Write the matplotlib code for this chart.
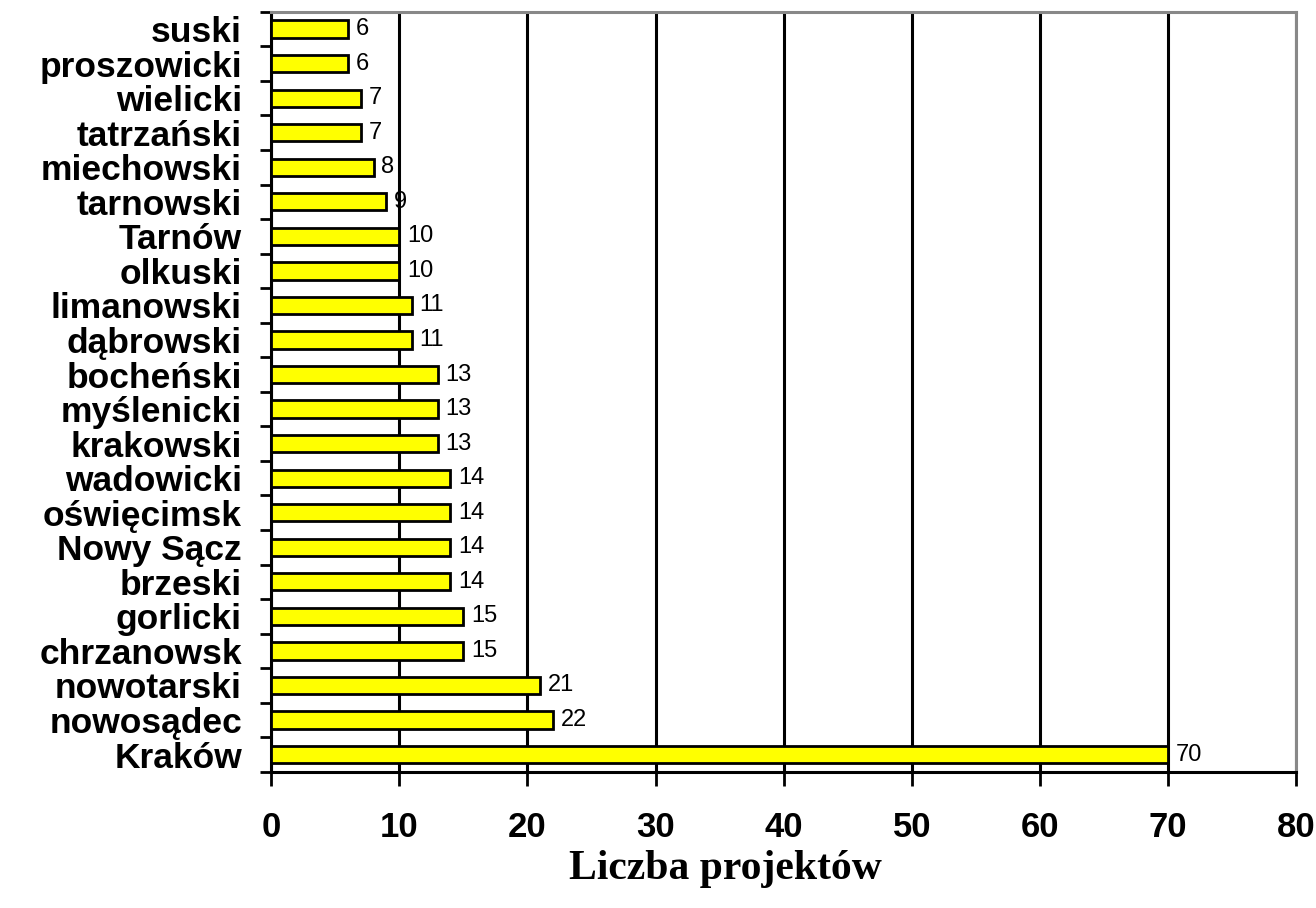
import numpy as np
import matplotlib.pyplot as plt

# categories listed bottom to top
powiaty = ['Kraków', 'nowosądec', 'nowotarski', 'chrzanowsk', 'gorlicki',
           'brzeski', 'Nowy Sącz', 'oświęcimsk', 'wadowicki', 'krakowski',
           'myślenicki', 'bocheński', 'dąbrowski', 'limanowski', 'olkuski',
           'Tarnów', 'tarnowski', 'miechowski', 'tatrzański', 'wielicki',
           'proszowicki', 'suski']
projekty = [70, 22, 21, 15, 15, 14, 14, 14, 14, 13, 13, 13, 11, 11, 10, 10,
            9, 8, 7, 7, 6, 6]
xticks = [0, 10, 20, 30, 40, 50, 60, 70, 80]

fig = plt.figure(figsize=(13.16, 9.08), dpi=100)
ax = fig.add_axes([0.206, 0.150, 0.779, 0.837])

y = np.arange(len(powiaty))
ax.barh(y, projekty, height=0.5, color='#ffff00', edgecolor='black',
        linewidth=2, zorder=3)

#values next to bars
for i in range(len(projekty)):
	ax.text(projekty[i] + 0.6, y[i], str(projekty[i]), va='center', ha='left',
	        fontsize=17, family='Liberation Sans', zorder=4)

ax.set_xlim(0, 80)
ax.set_ylim(-0.5, len(powiaty) - 0.5)

ax.set_xticks(xticks)
ax.set_xticklabels([str(v) for v in xticks], fontsize=25, fontweight='bold',
                   family='Liberation Sans')
ax.tick_params(axis='x', direction='out', length=10, width=2, pad=18)

# ticks between categories, labels at centers
ax.set_yticks(np.arange(len(powiaty) + 1) - 0.5)
ax.set_yticklabels([])
ax.set_yticks(y, minor=True)
ax.set_yticklabels(powiaty, minor=True, fontsize=25.5, fontweight='bold',
                   family='Liberation Sans')
ax.tick_params(axis='y', which='major', direction='out', length=8, width=2)
ax.tick_params(axis='y', which='minor', length=0, pad=21)

ax.grid(axis='x', color='black', linewidth=2.2, zorder=1)
ax.set_axisbelow(True)

for s in ['left', 'bottom']:
	ax.spines[s].set_color('black')
	ax.spines[s].set_linewidth(2.2)
for s in ['top', 'right']:
	ax.spines[s].set_color('#888888')
	ax.spines[s].set_linewidth(2.2)

fig.text(0.551, 0.043, 'Liczba projektów', ha='center', va='center',
         fontsize=30, fontweight='bold', family='Liberation Serif')

fig.savefig('out.png', dpi=100)
